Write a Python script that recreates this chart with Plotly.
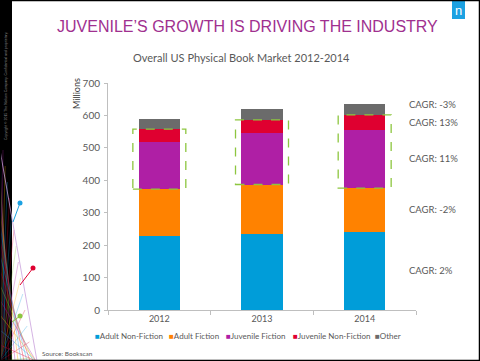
import plotly.graph_objects as go

years = ["2012", "2013", "2014"]
series_names = ["Adult Non-Fiction", "Adult Fiction", "Juvenile Fiction", "Juvenile Non-Fiction", "Other"]
adult_nonfiction = [229, 235, 241]
adult_fiction = [144, 152, 135]
juvenile_fiction = [146, 158, 180]
juvenile_nonfiction = [39, 41, 46]
other = [32, 33, 33]
cagr_labels = ["CAGR: 2%", "CAGR: -2%", "CAGR: 11%", "CAGR: 13%", "CAGR: -3%"]
colors = ["#009DD9", "#FF8200", "#AF1FA5", "#DF0030", "#6B6B6B"]

series = [adult_nonfiction, adult_fiction, juvenile_fiction, juvenile_nonfiction, other]

W, H = 480, 361
L, R, T, B = 108, 64, 83, 51
PW, PH = W - L - R, H - T - B

def px(x):
    return (x - L) / PW

def py(y):
    return (H - B - y) / PH

fig = go.Figure()
for name, vals, col in zip(series_names, series, colors):
    fig.add_trace(go.Bar(x=years, y=vals, name=name, marker=dict(color=col, line=dict(width=0)),
                         showlegend=False))

shapes = []
annotations = []

# dashed boxes around juvenile segments
for i in range(len(years)):
    lo = adult_nonfiction[i] + adult_fiction[i]
    hi = lo + juvenile_fiction[i] + juvenile_nonfiction[i]
    shapes.append(dict(type="rect", xref="x", yref="y", x0=i - 0.258, x1=i + 0.258, y0=lo, y1=hi,
                       line=dict(color="#8DC63F", width=1.3, dash="dash"), fillcolor="rgba(0,0,0,0)"))

# CAGR labels at segment middles of last year
cum = 0
last = len(years) - 1
for k, (vals, lab) in enumerate(zip(series, cagr_labels)):
    mid = cum + vals[last] / 2
    cum += vals[last]
    annotations.append(dict(xref="paper", yref="y", x=px(407), y=mid, text=lab, showarrow=False,
                            xanchor="left", yanchor="middle", yshift=5 if k == len(series) - 1 else 0,
                            font=dict(family="Lato", size=9.5, color="#595959")))

# legend built from series names and colors
legend_x = [93, 167, 224, 291, 373]
for name, col, lx in zip(series_names, colors, legend_x):
    annotations.append(dict(xref="paper", yref="paper", x=px(lx), y=py(336),
                            text=f'<span style="color:{col}">■</span>{name}', showarrow=False,
                            xanchor="left", yanchor="middle",
                            font=dict(family="Lato", size=8, color="#595959")))

# title, subtitle
annotations.append(dict(xref="paper", yref="paper", x=px(247), y=py(26),
                        text="JUVENILE’S GROWTH IS DRIVING THE INDUSTRY", showarrow=False,
                        xanchor="center", yanchor="middle",
                        font=dict(family="Liberation Sans", size=16, color="#A0308F")))
annotations.append(dict(xref="paper", yref="paper", x=px(241), y=py(57),
                        text="Overall US Physical Book Market 2012-2014", showarrow=False,
                        xanchor="center", yanchor="middle",
                        font=dict(family="Lato", size=11, color="#595959")))
annotations.append(dict(xref="paper", yref="paper", x=px(76), y=py(94), text="Millions",
                        textangle=-90, showarrow=False, xanchor="center", yanchor="middle",
                        font=dict(family="Lato", size=9, color="#404040")))
annotations.append(dict(xref="paper", yref="paper", x=px(40), y=py(353), text="Source: Bookscan",
                        showarrow=False, xanchor="left", yanchor="middle",
                        font=dict(family="Lato", size=6.5, color="#595959")))

# Nielsen logo
shapes.append(dict(type="rect", xref="paper", yref="paper", x0=px(452), x1=px(465), y0=py(19), y1=py(1),
                   fillcolor="#1BA1E2", line=dict(width=0)))
annotations.append(dict(xref="paper", yref="paper", x=px(458.5), y=py(10.5), text="n", showarrow=False,
                        xanchor="center", yanchor="middle",
                        font=dict(family="Liberation Sans", size=13, color="white")))

# left decorative strip
shapes.append(dict(type="rect", xref="paper", yref="paper", x0=px(0), x1=px(12), y0=py(361), y1=py(0),
                   fillcolor="#000000", line=dict(width=0), layer="below"))
annotations.append(dict(xref="paper", yref="paper", x=px(6), y=py(30),
                        text="Copyright © 2015 The Nielsen Company. Confidential and proprietary.",
                        textangle=-90, showarrow=False, xanchor="center", yanchor="top",
                        font=dict(family="Liberation Sans", size=3.5, color="#888888")))
mesh_cols = ["#1BA1E2", "#DF0030", "#8DC63F", "#AF1FA5", "#FFB000", "#1BA1E2", "#DF0030"]
for j in range(14):
    c = mesh_cols[j % len(mesh_cols)]
    y0 = 150 + j * 15
    shapes.append(dict(type="line", xref="paper", yref="paper", x0=px(0), y0=py(y0),
                       x1=px(min(36, 6 + j * 3)), y1=py(361), line=dict(color=c, width=0.6), opacity=0.6))
    shapes.append(dict(type="line", xref="paper", yref="paper", x0=px(0), y0=py(361),
                       x1=px(min(30, 3 + j * 2.2)), y1=py(min(361, 150 + j * 16)),
                       line=dict(color=mesh_cols[(j + 3) % len(mesh_cols)], width=0.6), opacity=0.5))
shapes.append(dict(type="line", xref="paper", yref="paper", x0=px(0), y0=py(150), x1=px(37), y1=py(361),
                   line=dict(color="#C9A0DC", width=0.8)))
for (dx, dy, c, ex, ey) in [(20, 203, "#1BA1E2", 13, 222), (33, 268, "#DF0030", 20, 285), (20, 316, "#8DC63F", 12, 322)]:
    shapes.append(dict(type="line", xref="paper", yref="paper", x0=px(dx), y0=py(dy), x1=px(ex), y1=py(ey),
                       line=dict(color=c, width=1)))
    shapes.append(dict(type="circle", xref="paper", yref="paper", x0=px(dx - 2.5), x1=px(dx + 2.5),
                       y0=py(dy + 2.5), y1=py(dy - 2.5), fillcolor=c, line=dict(width=0)))

# outer frame
shapes.append(dict(type="rect", xref="paper", yref="paper", x0=px(0.5), x1=px(479.5), y0=py(360.5), y1=py(0.5),
                   line=dict(color="#000000", width=1.5), fillcolor="rgba(0,0,0,0)"))

fig.update_layout(
    width=W, height=H, barmode="stack", bargap=0.6,
    margin=dict(l=L, r=R, t=T, b=B, pad=0, autoexpand=False),
    paper_bgcolor="white", plot_bgcolor="white", hovermode=False,
    showlegend=False, shapes=shapes, annotations=annotations,
    xaxis=dict(showline=True, linecolor="#BFBFBF", linewidth=1, ticks="outside", tickson="boundaries",
               ticklen=4, tickcolor="#BFBFBF", showgrid=False, automargin=False,
               range=[-0.5, 2.5], fixedrange=True,
               tickfont=dict(family="Lato", size=9, color="#595959")),
    yaxis=dict(range=[0, 700], dtick=100, showline=True, linecolor="#BFBFBF", linewidth=1,
               ticks="outside", ticklen=3, tickcolor="#BFBFBF", showgrid=False, zeroline=False,
               automargin=False, fixedrange=True, ticklabelstandoff=2,
               tickfont=dict(family="Lato", size=10, color="#595959")),
)

fig.write_html("out.html", config={"displayModeBar": False},
               post_script="document.body.style.margin='0';")
